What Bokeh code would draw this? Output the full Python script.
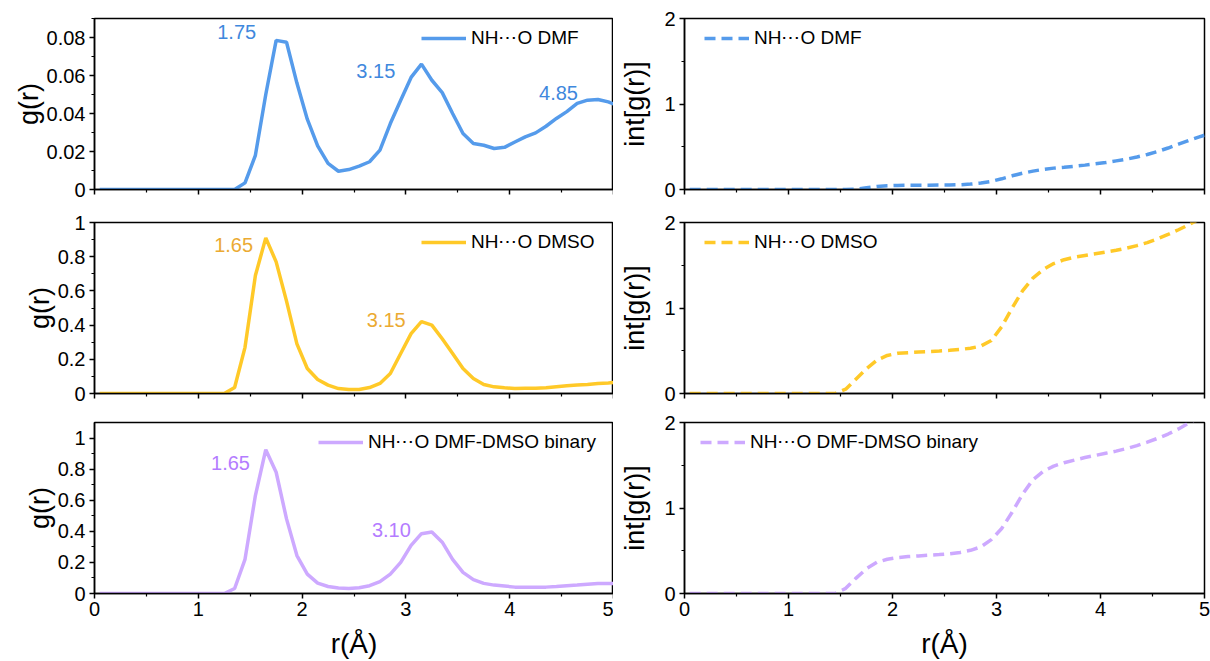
from bokeh.plotting import figure
from bokeh.models import (FixedTicker, PrintfTickFormatter, CustomJSTickFormatter,
                          Legend, LegendItem, Range1d)
from bokeh.layouts import column, row
from bokeh.embed import file_html
from bokeh.resources import INLINE
from bokeh.core.properties import value

# ---------------- data ----------------
r = [0.05, 0.15, 0.25, 0.35, 0.45, 0.55, 0.65, 0.75, 0.85, 0.95,
     1.05, 1.15, 1.25, 1.35, 1.45, 1.55, 1.65, 1.75, 1.85, 1.95,
     2.05, 2.15, 2.25, 2.35, 2.45, 2.55, 2.65, 2.75, 2.85, 2.95,
     3.05, 3.15, 3.25, 3.35, 3.45, 3.55, 3.65, 3.75, 3.85, 3.95,
     4.05, 4.15, 4.25, 4.35, 4.45, 4.55, 4.65, 4.75, 4.85, 4.95, 5.0]

g_dmf = [0, 0, 0, 0, 0, 0, 0, 0, 0, 0, 0, 0, 0, 0,
         0.0035, 0.018, 0.050, 0.0785, 0.0775, 0.056, 0.037, 0.023, 0.0137, 0.0096,
         0.0105, 0.0123, 0.0146, 0.0207, 0.0347, 0.047, 0.059, 0.066, 0.0575, 0.051,
         0.040, 0.0295, 0.0242, 0.0233, 0.0216, 0.0222, 0.025, 0.0277, 0.0298, 0.0333,
         0.0374, 0.041, 0.0453, 0.047, 0.0474, 0.0461, 0.045]

g_dmso = [0, 0, 0, 0, 0, 0, 0, 0, 0, 0, 0, 0, 0,
          0.035, 0.27, 0.69, 0.91, 0.77, 0.54, 0.29, 0.146, 0.082, 0.049, 0.029,
          0.023, 0.023, 0.035, 0.059, 0.117, 0.234, 0.35, 0.42, 0.40, 0.32,
          0.234, 0.146, 0.088, 0.053, 0.039, 0.033, 0.029, 0.031, 0.031, 0.033,
          0.039, 0.045, 0.049, 0.053, 0.059, 0.062, 0.064]

g_bin = [0, 0, 0, 0, 0, 0, 0, 0, 0, 0, 0, 0, 0,
         0.032, 0.22, 0.63, 0.925, 0.78, 0.48, 0.244, 0.125, 0.067, 0.045, 0.035,
         0.032, 0.037, 0.05, 0.076, 0.125, 0.2, 0.31, 0.385, 0.395, 0.33,
         0.22, 0.136, 0.089, 0.065, 0.054, 0.048, 0.041, 0.041, 0.041, 0.041,
         0.045, 0.05, 0.054, 0.06, 0.065, 0.065, 0.065]

int_dmf = [0, 0, 0, 0, 0, 0, 0, 0, 0, 0, 0, 0, 0, 0, 0, 0,
           0.005, 0.02, 0.035, 0.043, 0.047, 0.049, 0.05, 0.051, 0.052, 0.053,
           0.056, 0.063, 0.075, 0.095, 0.125, 0.16, 0.19, 0.215, 0.235, 0.25,
           0.26, 0.272, 0.285, 0.3, 0.315, 0.335, 0.355, 0.38, 0.41, 0.445,
           0.485, 0.53, 0.575, 0.615, 0.635]

int_dmso = [0, 0, 0, 0, 0, 0, 0, 0, 0, 0, 0, 0, 0, 0, 0,
            0.05, 0.17, 0.29, 0.39, 0.445, 0.47, 0.478, 0.485, 0.49, 0.497,
            0.505, 0.515, 0.53, 0.555, 0.62, 0.78, 1.0, 1.2, 1.35, 1.45,
            1.52, 1.565, 1.595, 1.615, 1.635, 1.655, 1.675, 1.70, 1.73, 1.765,
            1.81, 1.86, 1.915, 1.975, 2.04, 2.07]

int_bin = [0, 0, 0, 0, 0, 0, 0, 0, 0, 0, 0, 0, 0, 0, 0,
           0.06, 0.18, 0.29, 0.365, 0.40, 0.42, 0.432, 0.44, 0.448, 0.456,
           0.465, 0.48, 0.505, 0.545, 0.63, 0.76, 0.95, 1.16, 1.33, 1.43,
           1.49, 1.53, 1.56, 1.59, 1.615, 1.64, 1.665, 1.695, 1.73, 1.77,
           1.815, 1.865, 1.925, 1.995, 2.06, 2.09]

series_names = ["NH\u22efO DMF", "NH\u22efO DMSO", "NH\u22efO DMF-DMSO binary"]

peak_labels_dmf = ["1.75", "3.15", "4.85"]
peak_labels_dmso = ["1.65", "3.15"]
peak_labels_bin = ["1.65", "3.10"]

x_ticks = [0, 1, 2, 3, 4, 5]
y_ticks_dmf = [0, 0.02, 0.04, 0.06, 0.08]
y_ticks_g = [0, 0.2, 0.4, 0.6, 0.8, 1.0]
y_ticks_int = [0, 1, 2]

x_label = "r(\u00c5)"
y_label_g = "g(r)"
y_label_int = "int[g(r)]"

# ---------------- styling ----------------
FONT = "Liberation Sans"
line_colors = ["#559BEB", "#FFC928", "#CDA9FF"]
text_colors = ["#3F88DD", "#EBAA32", "#B47CFF"]

FW_L, FW_R, FH = 519, 520, 171


def make_fig(left_col, top_b, bot_b, y_range, yticks, yminor, show_x, ylabel, ystandoff):
    p = figure(frame_width=FW_L if left_col else FW_R, frame_height=FH,
               x_range=Range1d(0, 5), y_range=Range1d(*y_range),
               output_backend="svg", toolbar_location=None,
               min_border_left=94 if left_col else 71,
               min_border_right=0 if left_col else 6,
               min_border_top=top_b, min_border_bottom=bot_b)
    p.background_fill_color = "white"
    p.border_fill_color = "white"
    p.xgrid.visible = False
    p.ygrid.visible = False
    p.outline_line_color = "black"
    p.outline_line_width = 1.5
    p.outline_line_alpha = 1.0
    for ax in (p.xaxis[0], p.yaxis[0]):
        ax.axis_line_width = 1.5
        ax.axis_line_color = "black"
        ax.major_tick_line_color = "black"
        ax.minor_tick_line_color = "black"
        ax.major_tick_out = 5
        ax.major_tick_in = 0
        ax.minor_tick_out = 3
        ax.minor_tick_in = 0
        ax.major_tick_line_width = 1.5
        ax.minor_tick_line_width = 1.2
        ax.major_label_text_font = FONT
        ax.major_label_text_font_size = "20px"
        ax.major_label_text_color = "black"
        ax.axis_label_text_font = FONT
        ax.axis_label_text_font_size = "27px"
        ax.axis_label_text_font_style = "normal"
        ax.axis_label_text_color = "black"
        ax.formatter = PrintfTickFormatter(format="%g")
    p.xaxis[0].ticker = FixedTicker(ticks=x_ticks, minor_ticks=[0.5, 1.5, 2.5, 3.5, 4.5])
    p.yaxis[0].ticker = FixedTicker(ticks=yticks, minor_ticks=yminor)
    p.yaxis[0].major_label_standoff = 4
    p.yaxis[0].axis_label = ylabel
    p.yaxis[0].axis_label_standoff = ystandoff
    p.xaxis[0].major_label_standoff = 3
    if show_x:
        p.xaxis[0].axis_label = x_label
        p.xaxis[0].axis_label_text_font_size = "28px"
        p.xaxis[0].axis_label_standoff = 9
    else:
        p.xaxis[0].formatter = CustomJSTickFormatter(code="return ''")
    return p


def add_legend(p, rend, name, vx):
    leg = Legend(items=[LegendItem(label=name, renderers=[rend])], location=(vx, FH - 31),
                 label_text_font=FONT, label_text_font_size="19px", label_text_color="black",
                 glyph_width=45, glyph_height=20, label_height=20, label_standoff=5,
                 padding=0, margin=0, spacing=0, border_line_alpha=0, background_fill_alpha=0)
    p.add_layout(leg)


def add_peaks(p, xs, ys, labels, color):
    p.text(x=xs, y=ys, text=labels, text_font=value(FONT), text_font_size="20px",
           text_color=color, text_align="center", text_baseline="middle")


minor_01 = [0.01, 0.03, 0.05, 0.07, 0.09]
minor_g = [0.1, 0.3, 0.5, 0.7, 0.9]
minor_int = [0.5, 1.5]

# Left column
p1 = make_fig(True, 18, 16, (0, 0.09), y_ticks_dmf, minor_01, False, y_label_g, 0)
r1 = p1.line(r, g_dmf, line_color=line_colors[0], line_width=3.5)
add_legend(p1, r1, series_names[0], 327)
add_peaks(p1, [1.37, 2.71, 4.47], [0.083, 0.0625, 0.051], peak_labels_dmf, text_colors[0])

p2 = make_fig(True, 17, 14, (0, 1.0), y_ticks_g, minor_g, False, y_label_g, 0)
r2 = p2.line(r, g_dmso, line_color=line_colors[1], line_width=3.5)
add_legend(p2, r2, series_names[1], 327)
add_peaks(p2, [1.34, 2.81], [0.87, 0.43], peak_labels_dmso, text_colors[1])

p3 = make_fig(True, 15, 68, (0, 1.1), y_ticks_g, minor_g, True, y_label_g, 0)
r3 = p3.line(r, g_bin, line_color=line_colors[2], line_width=3.5)
add_legend(p3, r3, series_names[2], 224)
add_peaks(p3, [1.31, 2.86], [0.84, 0.41], peak_labels_bin, text_colors[2])

# Right column
p4 = make_fig(False, 18, 16, (0, 2), y_ticks_int, minor_int, False, y_label_int, 11)
r4 = p4.line(r, int_dmf, line_color=line_colors[0], line_width=3.5, line_dash="11 6")
add_legend(p4, r4, series_names[0], 20)

p5 = make_fig(False, 17, 14, (0, 2), y_ticks_int, minor_int, False, y_label_int, 11)
r5 = p5.line(r, int_dmso, line_color=line_colors[1], line_width=3.5, line_dash="11 6")
add_legend(p5, r5, series_names[1], 20)

p6 = make_fig(False, 15, 68, (0, 2), y_ticks_int, minor_int, True, y_label_int, 11)
r6 = p6.line(r, int_bin, line_color=line_colors[2], line_width=3.5, line_dash="11 6")
add_legend(p6, r6, series_names[2], 16)

layout = column(row(p1, p4), row(p2, p5), row(p3, p6))

open("out.html", "w").write(file_html(layout, INLINE))
